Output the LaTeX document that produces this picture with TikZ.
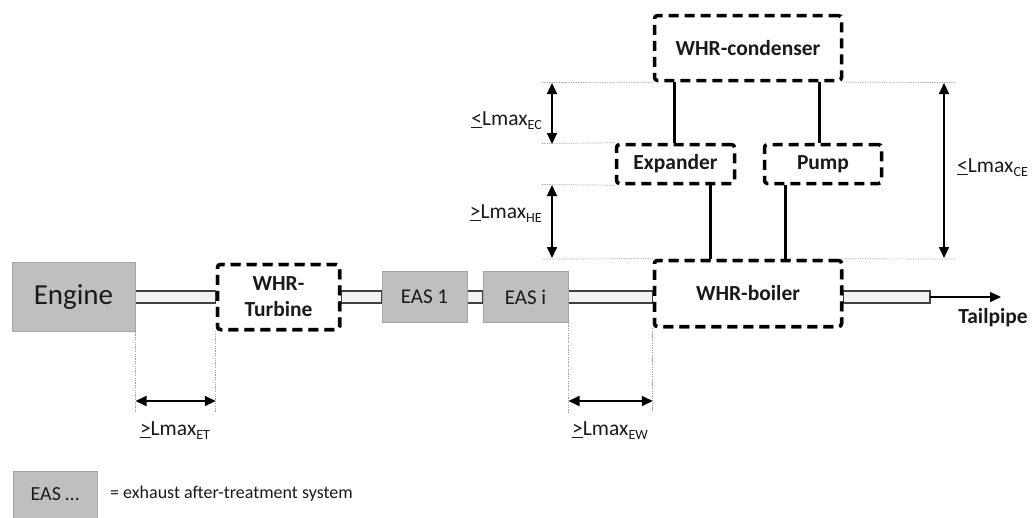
\documentclass[tikz,border=0pt]{standalone}
\usepackage{fontspec}
\setmainfont{Carlito}
\usetikzlibrary{arrows.meta,calc}
\definecolor{easfill}{HTML}{BFBFBF}
\definecolor{easdraw}{HTML}{A6A6A6}
\definecolor{pipefill}{HTML}{F2F2F2}
\definecolor{pipedraw}{HTML}{404040}
\definecolor{guide}{HTML}{A0A0A0}
\definecolor{txt}{HTML}{1A1A1A}
\tikzset{
  base/.style={font=\fontsize{21}{26}\selectfont, text=txt, inner sep=0pt},
  graybox/.style={base, draw=easdraw, fill=easfill, line width=1pt},
  whrbox/.style={base, font=\fontsize{21.5}{26}\selectfont\bfseries, draw=black, fill=white,
    line width=3.5pt, dash pattern=on 10pt off 6pt, rounded corners=3pt},
  pipe/.style={draw=pipedraw, fill=pipefill, line width=1.2pt},
  link/.style={draw=black, line width=3pt},
  guideline/.style={draw=guide, line width=0.7pt, dash pattern=on 1.2pt off 1.2pt},
  dim/.style={draw=black, line width=1.8pt,
    {Triangle[length=11pt,width=10pt]}-{Triangle[length=11pt,width=10pt]}},
  dimlabel/.style={base, font=\fontsize{21.5}{26}\selectfont},
}
\newcommand{\mygeq}{\underline{>}}
\newcommand{\myleq}{\underline{<}}
\newcommand{\mysub}[1]{\raisebox{-4pt}{\fontsize{14}{16}\selectfont #1}}
\begin{document}
\begin{tikzpicture}[x=1pt,y=-1pt]
\useasboundingbox (0,0) rectangle (1032,517);

% boxes
\node[graybox, font=\fontsize{29}{32}\selectfont, minimum width=123pt, minimum height=69pt] (eng) at (73.5,297) {Engine};
\node[whrbox, align=center, minimum width=122pt, minimum height=65pt] (turb) at (278.5,297) {WHR-\\Turbine};
\node[graybox, minimum width=85pt, minimum height=51pt] (eas1) at (424.5,297) {EAS 1};
\node[graybox, minimum width=85pt, minimum height=51pt] (easi) at (525.5,297) {EAS i};
\node[whrbox, minimum width=187pt, minimum height=66pt] (boil) at (748,293.5) {WHR-boiler};
\node[whrbox, minimum width=187pt, minimum height=65pt] (cond) at (748,48) {WHR-condenser};
\node[whrbox, minimum width=118pt, minimum height=39pt] (exp) at (675.5,164) {Expander};
\node[whrbox, minimum width=117pt, minimum height=39pt] (pump) at (823,164) {Pump};

% pipes
\coordinate (tp) at (930,297);
\coordinate (tpend) at (1001,297);

\path[pipe] (eng.east |- 0,291) rectangle (turb.west |- 0,303);
\path[pipe] (turb.east |- 0,291) rectangle (eas1.west |- 0,303);
\path[pipe] (eas1.east |- 0,291) rectangle (easi.west |- 0,303);
\path[pipe] (easi.east |- 0,291) rectangle (boil.west |- 0,303);
\path[pipe] (boil.east |- 0,291) rectangle (tp |- 0,303);

% redraw boxes on top of pipes
\node[graybox, font=\fontsize{29}{32}\selectfont, minimum width=123pt, minimum height=69pt] at (eng) {Engine};
\node[whrbox, align=center, minimum width=122pt, minimum height=65pt] at (turb) {WHR-\\Turbine};
\node[graybox, minimum width=85pt, minimum height=51pt] at (eas1) {EAS 1};
\node[graybox, minimum width=85pt, minimum height=51pt] at (easi) {EAS i};
\node[whrbox, minimum width=187pt, minimum height=66pt] at (boil) {WHR-boiler};

\draw[line width=1.5pt, -{Triangle[length=11pt,width=10pt]}] (tp) -- (tpend);
\node[base, font=\fontsize{21.5}{26}\selectfont\bfseries] (tail) at (993,318) {Tailpipe};

% links
\coordinate (l1) at ([xshift=-1.5pt]exp.north);
\coordinate (l2) at ([xshift=-4pt]pump.north);
\coordinate (l3) at ([xshift=34.5pt]exp.south);
\coordinate (l4) at ([xshift=-38pt]pump.south);
\draw[link] (l1) -- (cond.south -| l1);
\draw[link] (l2) -- (cond.south -| l2);
\draw[link] (l3) -- (boil.north -| l3);
\draw[link] (l4) -- (boil.north -| l4);

% guide lines
\draw[guideline] (542,82.5) -- (cond.south west);
\draw[guideline] (cond.south east) -- (955,82.5);
\draw[guideline] (542,143.5) -- (exp.north west);
\draw[guideline] (542,184.5) -- (exp.south west);
\draw[guideline] (542,259) -- (boil.north west);
\draw[guideline] (boil.north east) -- (955,259);
\draw[guideline] (eng.south east) -- (eng.east |- 0,412);
\draw[guideline] (turb.south west) -- (turb.west |- 0,412);
\draw[guideline] (easi.south east) -- (easi.east |- 0,412);
\draw[guideline] (boil.south west) -- (boil.west |- 0,412);

% dimension arrows
\coordinate (ec1) at (552,83);  \coordinate (ec2) at (552,144);
\coordinate (he1) at (552,185); \coordinate (he2) at (552,258);
\coordinate (ce1) at (944,83);  \coordinate (ce2) at (944,258);
\coordinate (et1) at (eng.east |- 0,401);  \coordinate (et2) at (turb.west |- 0,401);
\coordinate (ew1) at (easi.east |- 0,401); \coordinate (ew2) at (boil.west |- 0,401);
\draw[dim] (ec1) -- (ec2);
\draw[dim] (he1) -- (he2);
\draw[dim] (ce1) -- (ce2);
\draw[dim] (et1) -- (et2);
\draw[dim] (ew1) -- (ew2);

\node[dimlabel, anchor=east] (lec) at (542,121) {\myleq Lmax\mysub{EC}};
\node[dimlabel, anchor=east] (lhe) at (542,214) {\mygeq Lmax\mysub{HE}};
\node[dimlabel, anchor=west] (lce) at (957,168) {\myleq Lmax\mysub{CE}};
\node[dimlabel] (let) at (175,431) {\mygeq Lmax\mysub{ET}};
\node[dimlabel] (lew) at (610,431) {\mygeq Lmax\mysub{EW}};

% legend
\node[graybox, font=\fontsize{20}{24}\selectfont, minimum width=84pt, minimum height=47pt] (leg) at (55,494.5) {EAS \ldots};
\node[base, font=\fontsize{18}{22}\selectfont, anchor=west] (legt) at (110,494) {= exhaust after-treatment system};
\end{tikzpicture}
\end{document}
